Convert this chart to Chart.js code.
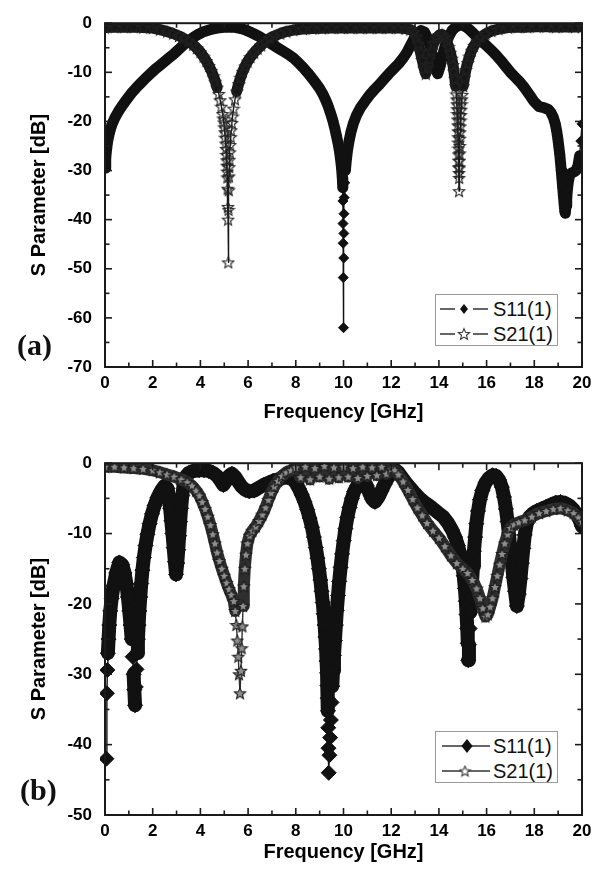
<!DOCTYPE html>
<html><head><meta charset="utf-8">
<script src="https://cdn.jsdelivr.net/npm/chart.js@4.4.1/dist/chart.umd.min.js"></script>
<style>
html,body{margin:0;padding:0;background:#fff;}
#wrap{position:relative;width:602px;height:875px;overflow:hidden;background:#fff;}
canvas.chart{position:absolute;left:0;}
.lbl{position:absolute;font-family:"Liberation Serif","Times New Roman",serif;font-weight:bold;font-size:30px;line-height:30px;color:#111;}
.legend{position:absolute;border:1px solid #9a9a9a;background:#fff;box-sizing:border-box;}
.legend .row{position:absolute;left:0;width:100%;height:24px;}
.legend canvas{position:absolute;left:4px;top:2px;}
.legend span{position:absolute;left:57px;top:0;font-family:"Liberation Sans",Arial,sans-serif;font-size:20px;line-height:24px;color:#111;white-space:nowrap;}
</style></head>
<body><div id="wrap">
<canvas id="ca" class="chart" width="602" height="440" style="top:0"></canvas>
<canvas id="cb" class="chart" width="602" height="435" style="top:440px"></canvas>
<div class="lbl" style="left:17px;top:330px">(a)</div>
<div class="lbl" style="left:20px;top:775px">(b)</div>
<div class="legend" style="left:435px;top:294px;width:123px;height:52px">
  <div class="row" style="top:2px"><canvas id="la1" width="52" height="20"></canvas><span>S11(1)</span></div>
  <div class="row" style="top:27px"><canvas id="la2" width="52" height="20"></canvas><span>S21(1)</span></div>
</div>
<div class="legend" style="left:435px;top:731px;width:123px;height:52px">
  <div class="row" style="top:2px"><canvas id="lb1" width="52" height="20"></canvas><span>S11(1)</span></div>
  <div class="row" style="top:27px"><canvas id="lb2" width="52" height="20"></canvas><span>S21(1)</span></div>
</div>
</div>
<script>
// ---------- tick labels ----------
const xTickValues = [0, 2, 4, 6, 8, 10, 12, 14, 16, 18, 20];
const xMinorValues = [1, 3, 5, 7, 9, 11, 13, 15, 17, 19];
const yTickValuesA = [0, -10, -20, -30, -40, -50, -60, -70];
const yMinorValuesA = [-5, -15, -25, -35, -45, -55, -65];
const yTickValuesB = [0, -10, -20, -30, -40, -50];
const yMinorValuesB = [-5, -15, -25, -35, -45];

// ---------- (a) S11 ----------
const freqA11 = [0,0.03,0.07,0.12,0.2,0.3,0.42,0.56,0.72,0.9,1.1,1.3,1.5,1.7,1.9,2.1,2.3,2.5,2.7,2.9,3.1,3.3,3.5,3.7,3.9,4.1,4.3,4.5,4.7,4.9,5.1,5.3,5.5,5.7,5.9,6.1,6.3,6.5,6.7,6.9,7.1,7.3,7.5,7.7,7.9,8.1,8.3,8.5,8.7,8.85,9.0,9.12,9.24,9.35,9.45,9.55,9.63,9.7,9.77,9.83,9.88,9.92,9.95,9.97,9.975,9.98,9.985,9.99,10.0,10.01,10.015,10.02,10.03,10.05,10.08,10.12,10.17,10.24,10.32,10.42,10.55,10.7,10.9,11.1,11.3,11.5,11.7,11.9,12.1,12.3,12.5,12.65,12.8,12.95,13.1,13.25,13.4,13.52,13.64,13.75,13.85,13.95,14.05,14.15,14.27,14.4,14.55,14.7,14.85,15.0,15.15,15.3,15.45,15.6,15.8,16.0,16.2,16.4,16.6,16.8,17.0,17.2,17.4,17.6,17.8,18.0,18.2,18.4,18.6,18.7,18.8,18.88,18.94,18.99,19.03,19.07,19.1,19.13,19.16,19.19,19.22,19.25,19.28,19.3,19.33,19.36,19.39,19.43,19.48,19.56,19.65,19.75,19.83,19.9,19.95,20.0];
const dbA11 = [-29.5,-27.5,-25.5,-23.8,-22,-20.5,-19.2,-18,-16.8,-15.6,-14.3,-13.2,-12.2,-11.2,-10.3,-9.4,-8.6,-7.8,-7.0,-6.2,-5.3,-4.4,-3.6,-2.9,-2.3,-1.8,-1.5,-1.2,-1.0,-0.9,-0.8,-0.8,-0.9,-1.1,-1.4,-1.8,-2.3,-2.8,-3.4,-4.0,-4.6,-5.2,-5.8,-6.4,-7.1,-8.0,-9.0,-10.1,-11.3,-12.3,-13.3,-14.3,-15.5,-16.8,-18.2,-19.8,-21.3,-22.8,-24.4,-26,-27.8,-29.6,-31.5,-33.5,-36.2,-40.8,-44.8,-51.8,-62,-47.8,-42.8,-38.8,-35.5,-32.5,-30,-27.8,-25.8,-23.8,-22,-20.3,-18.7,-17.3,-15.9,-14.6,-13.5,-12.5,-11.4,-10.3,-9.3,-8.3,-7.1,-6,-4.6,-3.2,-2.0,-1.5,-1.8,-3,-4.8,-7,-9.2,-10.3,-8.8,-6.6,-4.5,-2.8,-1.5,-0.8,-0.4,-0.4,-0.8,-1.4,-2.1,-2.8,-3.7,-4.6,-5.5,-6.5,-7.6,-8.8,-10.0,-11.0,-12.0,-13.2,-14.6,-16.0,-17.0,-17.2,-17.6,-18.2,-19.2,-20.5,-22,-23.6,-25.2,-26.8,-28.4,-30,-31.7,-33.4,-35.1,-36.8,-38.3,-38.7,-37.2,-35.5,-33.8,-32.2,-31,-30.5,-30.3,-30,-29,-27,-24,-20.5];

// ---------- (a) S21 ----------
const freqA21 = [0,0.4,0.8,1.2,1.6,2.0,2.3,2.6,2.85,3.1,3.3,3.5,3.7,3.85,4.0,4.13,4.25,4.36,4.46,4.55,4.63,4.7,4.77,4.83,4.88,4.93,4.96,4.98,5.0,5.02,5.04,5.06,5.075,5.09,5.1,5.11,5.12,5.13,5.14,5.15,5.16,5.17,5.18,5.19,5.2,5.21,5.22,5.235,5.25,5.27,5.29,5.32,5.35,5.39,5.45,5.52,5.6,5.68,5.77,5.87,5.98,6.1,6.25,6.4,6.55,6.7,6.9,7.1,7.35,7.6,7.9,8.3,8.7,9.1,9.5,9.9,10.3,10.7,11.1,11.5,11.9,12.3,12.6,12.8,12.95,13.05,13.14,13.22,13.3,13.38,13.45,13.53,13.6,13.68,13.78,13.9,14.02,14.14,14.24,14.33,14.41,14.48,14.54,14.59,14.63,14.67,14.7,14.73,14.745,14.755,14.765,14.775,14.785,14.795,14.8,14.81,14.815,14.82,14.825,14.83,14.835,14.84,14.845,14.85,14.855,14.86,14.865,14.87,14.88,14.89,14.9,14.91,14.92,14.935,14.95,14.965,14.98,15.02,15.07,15.13,15.2,15.28,15.37,15.47,15.6,15.75,15.95,16.2,16.5,16.9,17.3,17.7,18.1,18.5,18.9,19.3,19.7,20.0];
const dbA21 = [-0.9,-0.8,-0.8,-0.8,-0.9,-1.0,-1.3,-1.7,-2.1,-2.6,-3.1,-3.7,-4.4,-5.1,-5.9,-6.8,-7.7,-8.7,-9.7,-10.8,-11.9,-13.1,-14.4,-15.7,-17,-18.5,-19.4,-20.2,-21.2,-22.2,-23.3,-24.5,-25.6,-26.8,-27.9,-29,-30.2,-31.4,-33.7,-37.4,-40,-48.7,-38,-34,-31.2,-29.3,-27.8,-26.3,-24.8,-23.2,-21.8,-20.3,-19,-17.4,-15.5,-13.9,-12.4,-11.1,-9.9,-8.8,-7.8,-6.9,-6.0,-5.2,-4.5,-3.8,-3.1,-2.6,-2.1,-1.7,-1.4,-1.2,-1.1,-1.05,-1.0,-1.0,-1.0,-1.0,-1.0,-1.0,-1.0,-1.0,-1.1,-1.3,-1.8,-2.7,-4.2,-5.8,-7.5,-9.2,-10.3,-9,-7.3,-5.6,-4.1,-3.0,-2.4,-2.3,-2.8,-3.7,-4.8,-6,-7.2,-8.5,-9.8,-11.3,-12.8,-14.5,-15.5,-16.5,-17.5,-18.5,-19.6,-20.8,-22,-23.2,-24.3,-25.5,-26.7,-28,-29.3,-30.5,-34.2,-31.5,-29.5,-28,-26.5,-25,-23.5,-22.2,-21,-19.8,-18.7,-17.6,-16.5,-15.5,-14.6,-12.8,-11.1,-9.5,-8.1,-6.8,-5.6,-4.6,-3.7,-2.9,-2.2,-1.6,-1.2,-0.9,-0.8,-0.8,-0.7,-0.7,-0.8,-0.7,-0.8,-0.7];

// ---------- (b) S11 ----------
const freqB11 = [0.06,0.08,0.1,0.12,0.15,0.18,0.22,0.28,0.36,0.47,0.6,0.72,0.82,0.9,0.96,1.02,1.07,1.12,1.16,1.2,1.23,1.26,1.29,1.32,1.35,1.38,1.41,1.44,1.48,1.52,1.57,1.63,1.7,1.78,1.87,1.97,2.08,2.2,2.35,2.5,2.62,2.68,2.73,2.78,2.83,2.88,2.93,2.98,3.03,3.07,3.11,3.15,3.19,3.24,3.3,3.38,3.5,3.7,3.95,4.15,4.35,4.55,4.72,4.85,4.96,5.08,5.2,5.32,5.45,5.58,5.72,5.88,6.05,6.25,6.45,6.65,6.85,7.05,7.25,7.45,7.65,7.85,8.0,8.13,8.25,8.37,8.48,8.58,8.68,8.76,8.84,8.91,8.97,9.03,9.08,9.13,9.17,9.21,9.24,9.27,9.29,9.31,9.33,9.34,9.35,9.36,9.37,9.38,9.41,9.44,9.47,9.5,9.53,9.56,9.6,9.64,9.68,9.72,9.77,9.82,9.88,9.94,10.01,10.08,10.16,10.25,10.35,10.45,10.58,10.72,10.85,10.97,11.08,11.2,11.32,11.45,11.58,11.72,11.86,12.0,12.16,12.3,12.45,12.62,12.8,13.0,13.2,13.45,13.7,13.95,14.18,14.38,14.55,14.68,14.8,14.9,14.98,15.04,15.09,15.13,15.16,15.19,15.21,15.23,15.26,15.29,15.32,15.35,15.39,15.43,15.47,15.52,15.57,15.64,15.72,15.82,15.95,16.1,16.25,16.4,16.53,16.64,16.73,16.81,16.88,16.94,17.0,17.06,17.12,17.19,17.27,17.35,17.42,17.48,17.54,17.6,17.68,17.8,17.95,18.1,18.3,18.5,18.7,18.9,19.1,19.3,19.5,19.65,19.8,19.9,20.0];
const dbB11 = [-42,-32.7,-29.4,-27,-25,-23,-21,-19.2,-17.4,-15.6,-14.1,-14.4,-15.6,-17.2,-19,-21,-23,-25,-27.5,-30,-32.2,-34.4,-31.8,-29.3,-27,-25,-23,-21,-19,-17.1,-15.2,-13.4,-11.7,-10.1,-8.6,-7.2,-6,-4.9,-3.9,-3.2,-3.6,-4.8,-6.4,-8.2,-10,-12,-14,-15.8,-14.2,-12.3,-10.3,-8.3,-6.4,-4.6,-3.0,-1.9,-1.4,-1.1,-1.0,-1.0,-1.1,-1.4,-1.9,-2.5,-3.1,-2.5,-1.8,-1.5,-1.9,-2.6,-3.3,-3.8,-4.0,-3.9,-3.5,-3.1,-2.8,-2.5,-2.3,-2.1,-2.0,-2.2,-2.8,-3.6,-4.5,-5.5,-6.6,-7.8,-9.1,-10.5,-12,-13.5,-15,-16.6,-18.2,-19.8,-21.4,-23,-24.7,-26.4,-28.1,-29.8,-31.6,-33.4,-35.2,-37.6,-40.5,-44,-41.5,-39,-36.5,-34,-31.7,-29.5,-27.3,-25.2,-23,-20.9,-18.8,-16.8,-14.8,-12.9,-11.0,-9.3,-7.7,-6.3,-5.0,-4.0,-3.2,-2.7,-2.6,-3.2,-4.2,-5.1,-5.5,-4.9,-4.0,-3.0,-2.1,-1.4,-0.9,-1.3,-2.0,-2.8,-3.5,-4.3,-5.0,-5.7,-6.3,-7.0,-7.6,-8.5,-9.5,-10.5,-11.7,-13,-14.4,-16,-17.8,-19.6,-21.5,-23.5,-25.6,-28,-25.8,-23.5,-21.2,-19,-16.8,-14.6,-12.5,-10.5,-8.6,-6.8,-5.2,-3.9,-2.8,-2.1,-1.7,-1.8,-2.4,-3.4,-4.8,-6.5,-8.3,-10.2,-12.2,-14.2,-16.2,-18.2,-20.3,-18.6,-16.4,-14.2,-12.1,-10.2,-8.6,-7.6,-7.1,-6.8,-6.5,-6.2,-5.9,-5.6,-5.5,-5.7,-6.1,-6.6,-7.4,-8.1,-9.0];

// ---------- (b) S21 ----------
const freqB21 = [0,0.4,0.8,1.2,1.6,2.0,2.3,2.6,2.9,3.2,3.45,3.65,3.82,3.96,4.08,4.2,4.31,4.42,4.52,4.61,4.7,4.8,4.9,5.0,5.1,5.2,5.3,5.4,5.46,5.51,5.55,5.59,5.62,5.66,5.7,5.73,5.76,5.79,5.82,5.86,5.91,5.97,6.06,6.18,6.32,6.46,6.6,6.73,6.85,6.97,7.1,7.25,7.42,7.6,7.8,8.0,8.2,8.4,8.6,8.8,9.0,9.2,9.4,9.6,9.8,10.0,10.2,10.4,10.6,10.8,11.0,11.2,11.4,11.6,11.8,12.0,12.15,12.3,12.5,12.7,12.9,13.1,13.3,13.5,13.75,14.0,14.25,14.5,14.75,15.0,15.2,15.4,15.58,15.72,15.84,15.95,16.05,16.15,16.25,16.35,16.45,16.55,16.65,16.76,16.88,17.0,17.15,17.35,17.6,17.9,18.2,18.5,18.8,19.1,19.4,19.65,19.85,20.0];
const dbB21 = [-0.5,-0.5,-0.6,-0.7,-0.8,-1.0,-1.3,-1.6,-1.9,-2.3,-2.7,-3.2,-3.9,-4.6,-5.5,-6.5,-7.6,-8.8,-10.1,-11.4,-12.7,-13.9,-15.0,-16.0,-17,-17.9,-18.7,-19.6,-21,-23,-25.2,-27.5,-30,-32.7,-29.5,-26.3,-23.2,-20.3,-17.5,-15,-13,-11.4,-10.3,-9.6,-9,-8.2,-7.3,-6.3,-5.2,-4.2,-3.3,-2.5,-1.8,-1.3,-1.0,-0.6,-2.0,-0.5,-2.3,-0.7,-1.9,-0.4,-2.2,-0.6,-2.0,-0.5,-1.9,-0.7,-2.1,-0.5,-1.8,-0.6,-1.7,-0.5,-1.5,-0.8,-1.0,-1.6,-2.6,-3.8,-5.1,-6.3,-7.4,-8.5,-9.6,-10.6,-11.8,-13.1,-14.2,-15.0,-15.6,-16.6,-17.8,-19.2,-20.6,-21.8,-21.5,-20.4,-19.2,-17.6,-16,-14.4,-12.9,-11.4,-10.1,-9.2,-8.7,-8.4,-8.1,-7.6,-7.1,-6.8,-6.5,-6.4,-6.7,-7.1,-7.7,-8.3];

// ---------- helpers ----------
const FONT = '"Liberation Sans", Arial, sans-serif';
function pts(xs, ys) { return xs.map((x, i) => ({ x: x, y: ys[i] })); }
function starImage(size, fill, stroke, lw) {
  const c = document.createElement('canvas');
  c.width = size; c.height = size;
  const g = c.getContext('2d');
  const cx = size / 2, cy = size / 2 + 0.5, R = size / 2 - lw, r = R * 0.45;
  g.beginPath();
  for (let i = 0; i < 10; i++) {
    const ang = -Math.PI / 2 + i * Math.PI / 5;
    const rad = i % 2 ? r : R;
    g.lineTo(cx + rad * Math.cos(ang), cy + rad * Math.sin(ang));
  }
  g.closePath();
  if (fill) { g.fillStyle = fill; g.fill(); }
  g.strokeStyle = stroke; g.lineWidth = lw; g.stroke();
  return c;
}
function segByStep(th, w) {
  return ctx => (Math.abs(ctx.p1.y - ctx.p0.y) > th ? 1.4 : w);
}
function segByLevel(vals, level, w) {
  return ctx => (Math.min(vals[ctx.p0DataIndex], vals[ctx.p1DataIndex]) < level ? 1.4 : w);
}
const frameTicks = {
  id: 'frameTicks',
  afterDatasetsDraw(chart, args, o) {
    const { ctx, chartArea: a, scales } = chart;
    const sx = scales.x, sy = scales.y;
    ctx.save();
    ctx.strokeStyle = '#1a1a1a';
    ctx.lineWidth = 1.6;
    const seg = (x1, y1, x2, y2) => { ctx.beginPath(); ctx.moveTo(x1, y1); ctx.lineTo(x2, y2); ctx.stroke(); };
    const xt = (vals, len) => vals.forEach(v => { const p = sx.getPixelForValue(v); seg(p, a.bottom, p, a.bottom - len); seg(p, a.top, p, a.top + len); });
    const yt = (vals, len) => vals.forEach(v => { const p = sy.getPixelForValue(v); seg(a.left, p, a.left + len, p); seg(a.right, p, a.right - len, p); });
    xt(o.xMajor, 7); xt(o.xMinor, 4.5);
    yt(o.yMajor, 7); yt(o.yMinor, 4.5);
    ctx.lineWidth = 2;
    ctx.strokeRect(a.left, a.top, a.right - a.left, a.bottom - a.top);
    ctx.restore();
  }
};

function buildChart(id, cfg) {
  return new Chart(document.getElementById(id), {
    type: 'scatter',
    data: { datasets: cfg.datasets },
    options: {
      responsive: false, animation: false, devicePixelRatio: 1, events: [],
      layout: { padding: { left: 0, right: 20, top: cfg.padTop, bottom: 0 } },
      plugins: {
        legend: { display: false }, tooltip: { enabled: false },
        frameTicks: { xMajor: xTickValues, xMinor: xMinorValues, yMajor: cfg.yMajor, yMinor: cfg.yMinor }
      },
      scales: {
        x: {
          type: 'linear', min: 0, max: 20,
          afterBuildTicks: s => { s.ticks = xTickValues.map(v => ({ value: v })); },
          afterFit: s => { s.height = cfg.xAxisH; },
          grid: { display: false, drawTicks: false }, border: { display: false },
          ticks: { padding: 6, color: '#000', autoSkip: false, maxRotation: 0, font: { family: FONT, size: 17, weight: 'bold' }, callback: v => String(v) },
          title: { display: true, text: 'Frequency [GHz]', color: '#000', font: { family: FONT, size: 20, weight: 'bold' }, padding: { top: 0, bottom: cfg.titlePadB } }
        },
        y: {
          type: 'linear', min: cfg.ymin, max: 0,
          afterBuildTicks: s => { s.ticks = cfg.yMajor.map(v => ({ value: v })); },
          afterFit: s => { s.width = 105; },
          grid: { display: false, drawTicks: false }, border: { display: false },
          ticks: { padding: 13, color: '#000', font: { family: FONT, size: 17, weight: 'bold' }, callback: v => String(v) },
          title: { display: true, text: 'S Parameter [dB]', color: '#000', font: { family: FONT, size: 20, weight: 'bold' }, padding: { top: 27, bottom: 0 } }
        }
      }
    },
    plugins: [frameTicks]
  });
}

const starA = starImage(14, null, '#222', 1.1);
const starB = starImage(14, '#8e8e8e', '#1a1a1a', 1.1);

buildChart('ca', {
  padTop: 16, xAxisH: 73, titlePadB: 16, ymin: -70, yMajor: yTickValuesA, yMinor: yMinorValuesA,
  datasets: [
    { label: 'S11(1)', data: pts(freqA11, dbA11), showLine: true, clip: 0, order: 2,
      borderColor: '#111', backgroundColor: '#111', borderWidth: 11, borderJoinStyle: 'round', borderCapStyle: 'round',
      pointStyle: 'rectRot', pointRadius: 5, pointBackgroundColor: '#111', pointBorderColor: '#111', pointBorderWidth: 1,
      segment: { borderWidth: segByStep(11, 11) } },
    { label: 'S21(1)', data: pts(freqA21, dbA21), showLine: true, clip: 0, order: 1,
      borderColor: '#161616', backgroundColor: '#161616', borderWidth: 11, borderJoinStyle: 'round', borderCapStyle: 'round',
      pointStyle: starA, pointRadius: 6,
      segment: { borderWidth: segByLevel(dbA21, -14, 11) } }
  ]
});
buildChart('cb', {
  padTop: 23, xAxisH: 60, titlePadB: 11, ymin: -50, yMajor: yTickValuesB, yMinor: yMinorValuesB,
  datasets: [
    { label: 'S11(1)', data: pts(freqB11, dbB11), showLine: true, clip: { left: 5, top: 0, right: 0, bottom: 0 }, order: 2,
      borderColor: '#111', backgroundColor: '#111', borderWidth: 14, borderJoinStyle: 'round', borderCapStyle: 'round',
      pointStyle: 'rectRot', pointRadius: 7.5, pointBackgroundColor: '#111', pointBorderColor: '#111', pointBorderWidth: 1,
      segment: { borderWidth: segByStep(16, 14) } },
    { label: 'S21(1)', data: pts(freqB21, dbB21), showLine: true, clip: 0, order: 1,
      borderColor: '#2e2e2e', backgroundColor: '#2e2e2e', borderWidth: 12, borderJoinStyle: 'round', borderCapStyle: 'round',
      pointStyle: starB, pointRadius: 7,
      segment: { borderWidth: segByLevel(dbB21, -22, 12) } }
  ]
});

// ---------- legend symbols ----------
function legendSym(id, kind, opt) {
  const c = document.getElementById(id), g = c.getContext('2d');
  g.strokeStyle = '#333'; g.lineWidth = 1.5;
  g.beginPath();
  opt.lines.forEach(l => { g.moveTo(l[0], 10); g.lineTo(l[1], 10); });
  g.stroke();
  if (kind === 'diamond') {
    const r = opt.r, cx = opt.cx;
    g.fillStyle = '#111';
    g.beginPath(); g.moveTo(cx, 10 - r); g.lineTo(cx + r * 0.8, 10); g.lineTo(cx, 10 + r); g.lineTo(cx - r * 0.8, 10); g.closePath(); g.fill();
  } else {
    const s = opt.img;
    g.drawImage(s, opt.cx - s.width / 2, 10 - s.height / 2);
  }
}
legendSym('la1', 'diamond', { lines: [[0, 15], [33, 48]], cx: 24, r: 5 });
legendSym('la2', 'star', { lines: [[0, 15], [33, 48]], cx: 24, img: starImage(14, '#fff', '#333', 1.1) });
legendSym('lb1', 'diamond', { lines: [[2, 50]], cx: 27, r: 7 });
legendSym('lb2', 'star', { lines: [[2, 50]], cx: 25, img: starImage(13, '#fff', '#333', 1.1) });
</script>
</body></html>
